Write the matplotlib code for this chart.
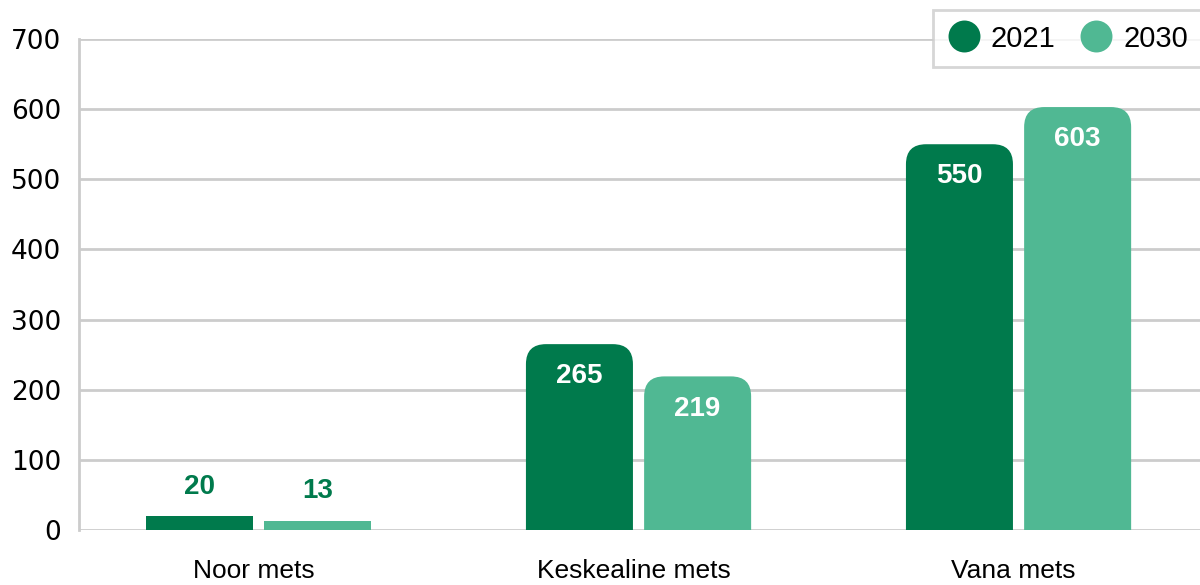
import matplotlib.pyplot as plt
import matplotlib.transforms as mtransforms
import numpy as np
from matplotlib.lines import Line2D
from matplotlib.patches import PathPatch
from matplotlib.path import Path

categories = ["Noor mets", "Keskealine mets", "Vana mets"]
years = ["2021", "2030"]
values_2021 = [20, 265, 550]
values_2030 = [13, 219, 603]
y_ticks = [0, 100, 200, 300, 400, 500, 600, 700]

DARK = "#007a4c"
LIGHT = "#50b893"
GRID = "#cccccc"

plt.rcParams["font.family"] = ["Liberation Sans", "DejaVu Sans"]

fig = plt.figure(figsize=(12, 5.85), dpi=100)
ax = fig.add_axes([0.0658, 0.094, 0.9342, 0.8393])

x = np.arange(len(categories))
width = 0.2816
offsets = [-0.154, 0.157]


def rounded_bar(ax, xc, h, w, color, rx=0.053, ry=28.5):
    x0, x1 = xc - w / 2, xc + w / 2
    if h < 2 * ry:
        verts = [(x0, 0), (x0, h), (x1, h), (x1, 0), (x0, 0)]
        codes = [Path.MOVETO] + [Path.LINETO] * 3 + [Path.CLOSEPOLY]
    else:
        verts = [
            (x0, 0), (x0, h - ry), (x0, h), (x0 + rx, h),
            (x1 - rx, h), (x1, h), (x1, h - ry), (x1, 0), (x0, 0),
        ]
        codes = [
            Path.MOVETO, Path.LINETO, Path.CURVE3, Path.CURVE3,
            Path.LINETO, Path.CURVE3, Path.CURVE3, Path.LINETO, Path.CLOSEPOLY,
        ]
    ax.add_patch(PathPatch(Path(verts, codes), facecolor=color, edgecolor="none", zorder=3))


for vals, off, col in [(values_2021, offsets[0], DARK), (values_2030, offsets[1], LIGHT)]:
    for xi, v in zip(x, vals):
        rounded_bar(ax, xi + off, v, width, col)
        if v > 100:
            ax.text(xi + off, v - 46, str(v), ha="center", va="center", color="white",
                    fontsize=20, fontweight="bold", zorder=4)
        else:
            ax.text(xi + off, v + 42, str(v), ha="center", va="center", color=DARK,
                    fontsize=20, fontweight="bold", zorder=4)

ax.set_xlim(-0.471, 2.479)
ax.set_ylim(0, 700)
ax.set_yticks(y_ticks)
ax.set_yticklabels([str(t) for t in y_ticks], family="DejaVu Sans", fontsize=19)
ax.set_xticks(x)
ax.set_xticklabels(categories, fontsize=19)
ax.tick_params(axis="both", length=0, colors="black")
ax.tick_params(axis="y", pad=13)
ax.tick_params(axis="x", pad=21)
shift = mtransforms.ScaledTranslation(-4.5 / 100, 0, fig.dpi_scale_trans)
for lbl in ax.get_xticklabels():
    lbl.set_transform(lbl.get_transform() + shift)
ax.grid(axis="y", color=GRID, linewidth=2, zorder=0)
ax.set_axisbelow(True)
for s in ["top", "right", "bottom"]:
    ax.spines[s].set_visible(False)
ax.spines["left"].set_color(GRID)
ax.spines["left"].set_linewidth(2)

handles = [Line2D([], [], marker="o", linestyle="none", markersize=23,
                  markerfacecolor=c, markeredgecolor="none") for c in (DARK, LIGHT)]
leg = fig.legend(handles, years, loc="upper right", bbox_to_anchor=(1.002, 0.983),
                 fontsize=21, fancybox=False, edgecolor=GRID, handletextpad=0.37,
                 columnspacing=0.85, ncol=2, borderpad=0.5, handlelength=1.1,
                 borderaxespad=0)
leg.get_frame().set_linewidth(2)

fig.savefig("out.png", dpi=100)
